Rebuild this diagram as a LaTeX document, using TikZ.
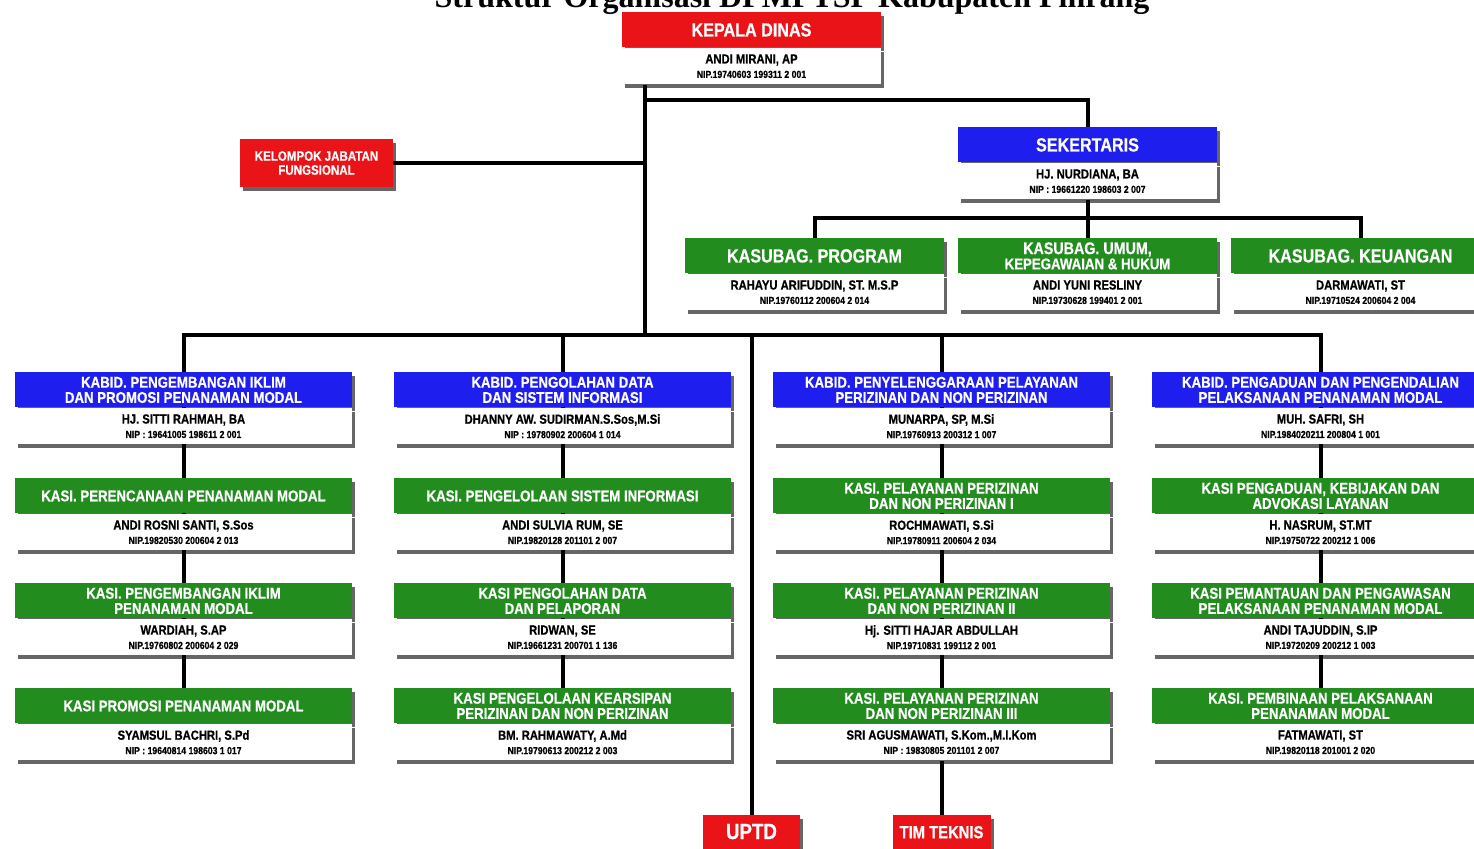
\documentclass[tikz,border=0pt]{standalone}
\usepackage{fontspec}
\setmainfont{Liberation Sans}[FakeStretch=0.85, BoldFeatures={FakeBold=0.6}]
\newfontfamily\titlefont{Liberation Serif}
\usetikzlibrary{positioning, calc, shadows, backgrounds}

\definecolor{hdred}{RGB}{234,20,24}
\definecolor{hdblue}{RGB}{30,30,238}
\definecolor{hdgreen}{RGB}{34,140,30}

\tikzset{
link/.style={line width=2pt, black},
shade/.style={drop shadow={shadow xshift=1.6pt, shadow yshift=-2pt, opacity=0.6, fill=black}},
head/.style={anchor=north, shade, minimum height=17.5pt, inner sep=0pt, align=center, text=white,
  font=\bfseries\fontsize{7.8}{7.6}\selectfont},
body/.style={shade, fill=white, minimum height=18pt, inner sep=0pt, align=center,
  font=\bfseries\fontsize{6.6}{7.2}\selectfont},
wide/.style={minimum width=168.5pt},
slim/.style={minimum width=129.5pt},
tag/.style={shade, fill=hdred, text=white, align=center, inner sep=0pt, font=\bfseries}
}
\newcommand{\nipfont}{\fontsize{5.1}{5.5}\selectfont}
\newcommand{\hbig}{\fontsize{9.5}{10}\selectfont}

% name / width / position / colour / title / person / nip
\newcommand{\orgbox}[7]{
  \node [head, #2, fill=#4] (#1) at #3 {#5};
  \node [body, #2, below=0pt of #1] (#1p) {#6\\{\nipfont #7}};
}

\begin{document}
\begin{tikzpicture}[x=0.5pt, y=-0.5pt]
  \useasboundingbox (0,0) rectangle (1474,848);

  \node [font=\titlefont\bfseries\fontsize{16}{18}\selectfont, anchor=base] (title) at (792,7)
    {Struktur Organisasi DPMPTSP Kabupaten Pinrang};

  % top
  \orgbox{kd}{slim}{(751.5,12)}{hdred}{\hbig KEPALA DINAS}{ANDI MIRANI, AP}{NIP.19740603 199311 2 001}
  \node [tag, minimum width=76.5pt, minimum height=24pt, font=\bfseries\fontsize{6.8}{7}\selectfont]
    (kjf) at (316.5,163) {KELOMPOK JABATAN\\FUNGSIONAL};
  \orgbox{sek}{slim}{(1087.5,127)}{hdblue}{\hbig SEKERTARIS}{HJ. NURDIANA, BA}{NIP : 19661220 198603 2 007}

  \orgbox{prog}{slim}{(814.5,238)}{hdgreen}{\hbig KASUBAG. PROGRAM}{RAHAYU ARIFUDDIN, ST. M.S.P}{NIP.19760112 200604 2 014}
  \orgbox{umum}{slim}{(1087.5,238)}{hdgreen}{\fontsize{8.4}{8}\selectfont KASUBAG. UMUM,\\KEPEGAWAIAN \& HUKUM}{ANDI YUNI RESLINY}{NIP.19730628 199401 2 001}
  \orgbox{keu}{slim}{(1360.5,238)}{hdgreen}{\hbig KASUBAG. KEUANGAN}{DARMAWATI, ST}{NIP.19710524 200604 2 004}

  % column 1
  \orgbox{bidA}{wide}{(183.5,372)}{hdblue}{KABID. PENGEMBANGAN IKLIM\\DAN PROMOSI PENANAMAN MODAL}{HJ. SITTI RAHMAH, BA}{NIP : 19641005 198611 2 001}
  \orgbox{siA1}{wide}{(183.5,478)}{hdgreen}{KASI. PERENCANAAN PENANAMAN MODAL}{ANDI ROSNI SANTI, S.Sos}{NIP.19820530 200604 2 013}
  \orgbox{siA2}{wide}{(183.5,583)}{hdgreen}{KASI. PENGEMBANGAN IKLIM\\PENANAMAN MODAL}{WARDIAH, S.AP}{NIP.19760802 200604 2 029}
  \orgbox{siA3}{wide}{(183.5,688)}{hdgreen}{KASI PROMOSI PENANAMAN MODAL}{SYAMSUL BACHRI, S.Pd}{NIP : 19640814 198603 1 017}

  % column 2
  \orgbox{bidB}{wide}{(562.5,372)}{hdblue}{KABID. PENGOLAHAN DATA\\DAN SISTEM INFORMASI}{DHANNY AW. SUDIRMAN.S.Sos,M.Si}{NIP : 19780902 200604 1 014}
  \orgbox{siB1}{wide}{(562.5,478)}{hdgreen}{KASI. PENGELOLAAN SISTEM INFORMASI}{ANDI SULVIA RUM, SE}{NIP.19820128 201101 2 007}
  \orgbox{siB2}{wide}{(562.5,583)}{hdgreen}{KASI PENGOLAHAN DATA\\DAN PELAPORAN}{RIDWAN, SE}{NIP.19661231 200701 1 136}
  \orgbox{siB3}{wide}{(562.5,688)}{hdgreen}{KASI PENGELOLAAN KEARSIPAN\\PERIZINAN DAN NON PERIZINAN}{BM. RAHMAWATY, A.Md}{NIP.19790613 200212 2 003}

  % column 3
  \orgbox{bidC}{wide}{(941.5,372)}{hdblue}{KABID. PENYELENGGARAAN PELAYANAN\\PERIZINAN DAN NON PERIZINAN}{MUNARPA, SP, M.Si}{NIP.19760913 200312 1 007}
  \orgbox{siC1}{wide}{(941.5,478)}{hdgreen}{KASI. PELAYANAN PERIZINAN\\DAN NON PERIZINAN I}{ROCHMAWATI, S.Si}{NIP.19780911 200604 2 034}
  \orgbox{siC2}{wide}{(941.5,583)}{hdgreen}{KASI. PELAYANAN PERIZINAN\\DAN NON PERIZINAN II}{Hj. SITTI HAJAR ABDULLAH}{NIP.19710831 199112 2 001}
  \orgbox{siC3}{wide}{(941.5,688)}{hdgreen}{KASI. PELAYANAN PERIZINAN\\DAN NON PERIZINAN III}{SRI AGUSMAWATI, S.Kom.,M.I.Kom}{NIP : 19830805 201101 2 007}

  % column 4
  \orgbox{bidD}{wide}{(1320.5,372)}{hdblue}{KABID. PENGADUAN DAN PENGENDALIAN\\PELAKSANAAN PENANAMAN MODAL}{MUH. SAFRI, SH}{NIP.1984020211 200804 1 001}
  \orgbox{siD1}{wide}{(1320.5,478)}{hdgreen}{KASI PENGADUAN, KEBIJAKAN DAN\\ADVOKASI LAYANAN}{H. NASRUM, ST.MT}{NIP.19750722 200212 1 006}
  \orgbox{siD2}{wide}{(1320.5,583)}{hdgreen}{KASI PEMANTAUAN DAN PENGAWASAN\\PELAKSANAAN PENANAMAN MODAL}{ANDI TAJUDDIN, S.IP}{NIP.19720209 200212 1 003}
  \orgbox{siD3}{wide}{(1320.5,688)}{hdgreen}{KASI. PEMBINAAN PELAKSANAAN\\PENANAMAN MODAL}{FATMAWATI, ST}{NIP.19820118 201001 2 020}

  % bottom
  \node [tag, anchor=north, minimum width=48.5pt, minimum height=20pt, text height=7.6pt, text depth=4pt,
    font=\bfseries\fontsize{11}{11}\selectfont] (uptd) at (751.5,815) {UPTD};
  \node [tag, anchor=north, minimum width=49pt, minimum height=20pt, text height=6pt, text depth=3.2pt,
    font=\bfseries\fontsize{8.7}{9}\selectfont] (tim) at (941.5,815) {TIM TEKNIS};

  \begin{scope}[on background layer={link}]
    \fill [white] (0,0) rectangle (1474,848);
    \coordinate (trunk) at (645,335);
    \coordinate (sekjoin) at (645,100);
    \coordinate (subbus) at (1087.5,218);

    \draw (kdp.south -| trunk) -- (trunk);
    \draw (sekjoin) -| (sek.north);
    \draw (kjf.east) -- (kjf.east -| trunk);
    \draw (sekp.south) -- (umum.north);
    \draw (prog.north) |- (subbus) -| (keu.north);

    \draw (bidA.north) |- (trunk) -| (bidD.north);
    \foreach \c in {A,B,C,D} {
      \draw (bid\c.north |- trunk) -- (si\c3.north);
    }
    \draw (siC3p.south) -- (tim.north);
    \draw (uptd.north |- trunk) -- (uptd.north);
  \end{scope}
\end{tikzpicture}
\end{document}
